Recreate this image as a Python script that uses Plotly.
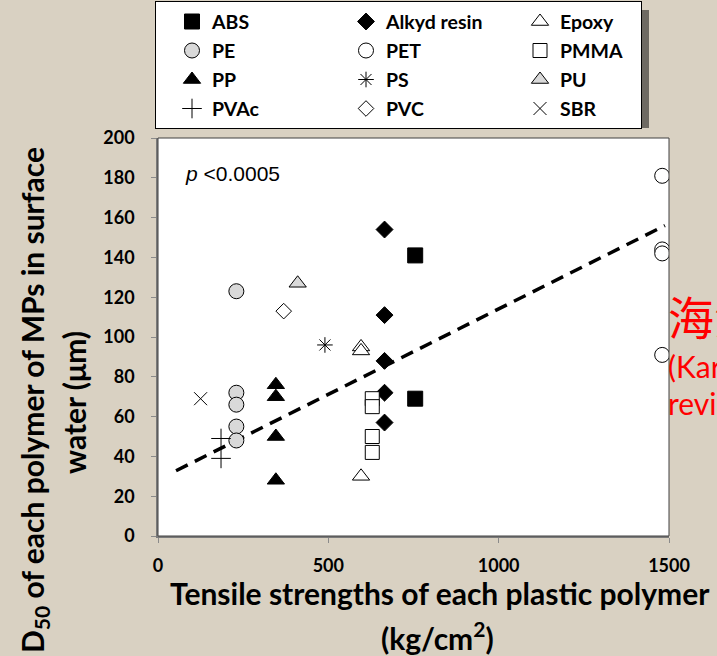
import plotly.graph_objects as go

# ---------------- data ----------------
abs_x = [755, 755]
abs_y = [141, 69]
alkyd_x = [665, 665, 665, 665, 665]
alkyd_y = [154, 111, 88, 72, 57]
epoxy_x = [596, 596, 596]
epoxy_y = [95, 93, 30]
pe_x = [230, 230, 230, 230, 230]
pe_y = [123, 72, 66, 55, 48]
pet_x = [1480, 1480, 1480, 1480]
pet_y = [181, 144, 142, 91]
pmma_x = [629, 629, 629, 629]
pmma_y = [69, 65, 50, 42]
pp_x = [346, 346, 346, 346]
pp_y = [76, 70, 50, 28]
ps_x = [490]
ps_y = [96]
pu_x = [410]
pu_y = [127]
pvac_x = [185, 185]
pvac_y = [49, 39]
pvc_x = [369]
pvc_y = [113]
sbr_x = [125]
sbr_y = [69]

trend_x = [53, 1488]
trend_y = [32.8, 156]

x_ticks = [0, 500, 1000, 1500]
y_ticks = [0, 20, 40, 60, 80, 100, 120, 140, 160, 180, 200]

W, H = 717, 656
ML, MR, MT, MB = 158, 48, 138, 120
PW, PH = W - ML - MR, H - MT - MB


def px_x(p):
    return (p - ML) / PW


def px_y(p):
    return (H - MB - p) / PH


BG = "#d9d1c2"
FONT = "Lato"
GREY = "#d9d9d9"

series = [
    ("ABS", abs_x, abs_y, "square", 15, "black", "black", 113),
    ("Alkyd resin", alkyd_x, alkyd_y, "diamond", 13, "black", "black", 113),
    ("Epoxy", epoxy_x, epoxy_y, "triangle-up", 15, "white", "black", 76),
    ("PE", pe_x, pe_y, "circle", 15, GREY, "black", 113),
    ("PET", pet_x, pet_y, "circle", 15, "white", "black", 113),
    ("PMMA", pmma_x, pmma_y, "square", 14, "white", "black", 76),
    ("PP", pp_x, pp_y, "triangle-up", 15, "black", "black", 113),
    ("PS", ps_x, ps_y, "asterisk-open", 13, "black", "black", 113),
    ("PU", pu_x, pu_y, "triangle-up", 15, GREY, "black", 76),
    ("PVAc", pvac_x, pvac_y, "cross-thin-open", 14, "black", "black", 113),
    ("PVC", pvc_x, pvc_y, "diamond", 12, "white", "black", 113),
    ("SBR", sbr_x, sbr_y, "x-thin-open", 13, "black", "black", 76),
]

fig = go.Figure()

fig.add_trace(go.Scatter(
    x=trend_x, y=trend_y, mode="lines", showlegend=False, hoverinfo="skip",
    line=dict(color="black", width=3.5, dash="13px,8px"),
))

for name, xs, ys, sym, size, fill, edge, lw in series:
    fig.add_trace(go.Scatter(
        x=xs, y=ys, mode="markers", name=f'<span style="font-size:19.5px">{name}</span>',
        legendwidth=lw,
        marker=dict(symbol=sym, size=size, color=fill,
                    line=dict(color=edge, width=1)),
    ))

# plot frame
fig.add_shape(type="rect", xref="paper", yref="paper", x0=0, x1=1, y0=0, y1=1,
              line=dict(color="#404040", width=1), layer="above")
# legend shadow
fig.add_shape(type="rect", xref="paper", yref="paper",
              x0=px_x(160), x1=px_x(649), y0=px_y(128), y1=px_y(10),
              line=dict(width=0), fillcolor="#6e6a63", layer="above")

title_font = dict(family=FONT, size=30, color="black", weight="bold")
annotations = [
    dict(text="<i>p</i> &lt;0.0005", x=px_x(183), y=px_y(174), xanchor="left",
         yanchor="middle", font=dict(family="Liberation Sans", size=21, color="black")),
    dict(text="Tensile strengths of each plastic polymer",
         x=px_x(440), y=px_y(593), xanchor="center", yanchor="middle", font=title_font),
    dict(text="(kg/cm<sup>2</sup>)",
         x=px_x(437), y=px_y(636), xanchor="center", yanchor="middle", font=title_font),
    dict(text="D<sub>50</sub> of each polymer of MPs in surface",
         x=px_x(34), y=px_y(400), xanchor="center", yanchor="middle", textangle=-90,
         font=title_font),
    dict(text="water (μm)",
         x=px_x(74), y=px_y(403), xanchor="center", yanchor="middle", textangle=-90,
         font=title_font),
    dict(text="海洋", x=px_x(666), y=px_y(315), xanchor="left", yanchor="middle",
         font=dict(family="Noto Sans CJK SC", size=46, color="red")),
    dict(text="(Karbalaei", x=px_x(666), y=px_y(366), xanchor="left", yanchor="middle",
         font=dict(family=FONT, size=30, color="red")),
    dict(text="review)", x=px_x(666), y=px_y(403), xanchor="left", yanchor="middle",
         font=dict(family=FONT, size=30, color="red")),
]
for a in annotations:
    a.update(xref="paper", yref="paper", showarrow=False)

fig.update_layout(
    template="none",
    width=W, height=H,
    margin=dict(l=ML, r=MR, t=MT, b=MB, autoexpand=False),
    paper_bgcolor=BG, plot_bgcolor="white",
    font=dict(family=FONT, color="black"),
    annotations=annotations,
    showlegend=True,
    legend=dict(
        orientation="h", x=px_x(155), y=px_y(1), xanchor="left", yanchor="top",
        bgcolor="white", bordercolor="black", borderwidth=1,
        font=dict(family=FONT, size=20, color="black", weight="bold"),
        indentation=16, itemwidth=30, traceorder="normal",
    ),
    xaxis=dict(
        range=[0, 1500], tickvals=x_ticks, ticktext=[str(v) for v in x_ticks],
        showgrid=False, zeroline=False, showline=True, linecolor="#7a7a7a", linewidth=2,
        ticks="outside", ticklen=5, tickcolor="#8a8a8a", tickwidth=1,
        tickfont=dict(family=FONT, size=18, color="black", weight="bold"),
        ticklabelstandoff=7, automargin=False, fixedrange=True,
    ),
    yaxis=dict(
        range=[0, 200], tickvals=y_ticks, ticktext=[str(v) for v in y_ticks],
        showgrid=False, zeroline=False, showline=True, linecolor="#7a7a7a", linewidth=1.5,
        ticks="outside", ticklen=5, tickcolor="#8a8a8a", tickwidth=1,
        tickfont=dict(family=FONT, size=18, color="black", weight="bold"),
        ticklabelstandoff=13, automargin=False, fixedrange=True,
    ),
)

fig.write_html("out.html")
